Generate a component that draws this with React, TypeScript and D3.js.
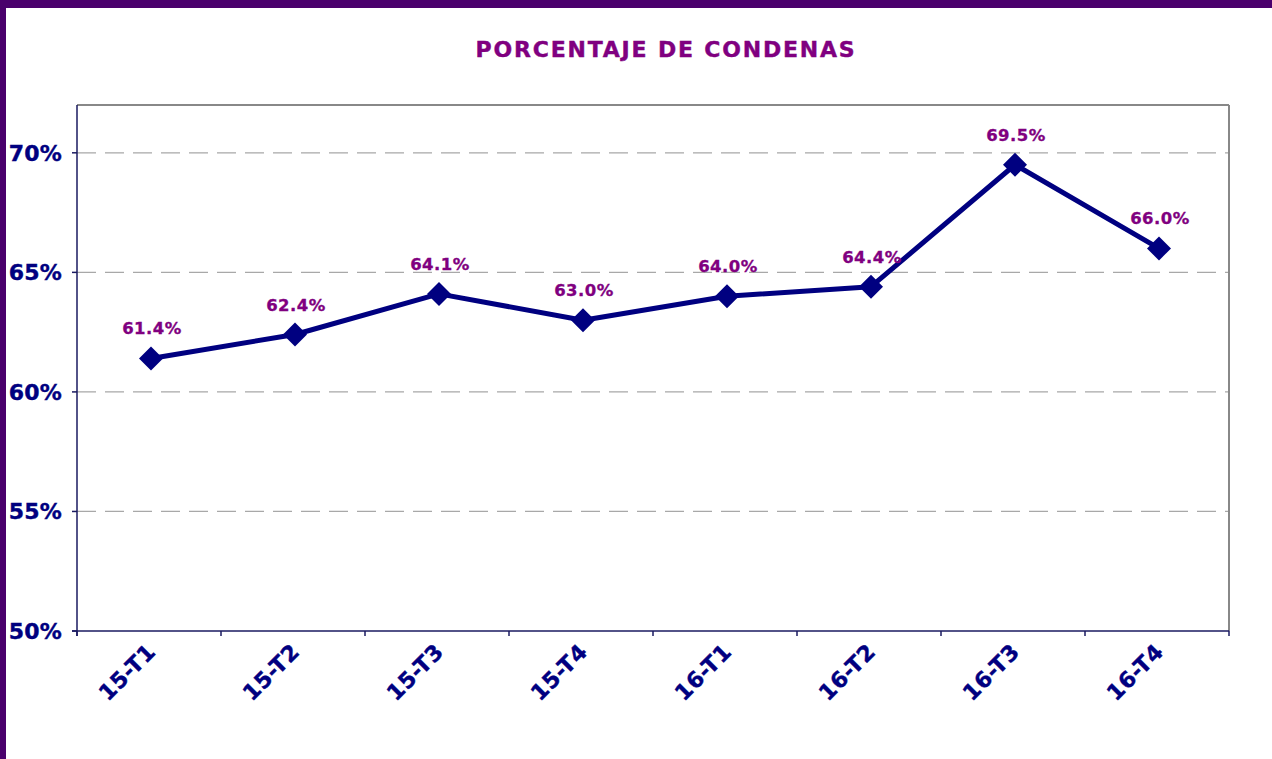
import React from "react";
import * as d3 from "d3";

const categories = ["15-T1", "15-T2", "15-T3", "15-T4", "16-T1", "16-T2", "16-T3", "16-T4"];
const values = [0.614, 0.624, 0.641, 0.63, 0.64, 0.644, 0.695, 0.66];
const yTicks = [0.5, 0.55, 0.6, 0.65, 0.7];
const title = "PORCENTAJE DE CONDENAS";

const W = 1272, H = 759;
const L = 77, R = 1229, T = 105, B = 631;
const FONT = "Verdana, 'DejaVu Sans', sans-serif";

export default function App() {
  const x = d3.scaleBand<string>().domain(categories).range([L, R]).padding(0);
  const y = d3.scaleLinear().domain([0.5, 0.72]).range([B, T]);
  const cx = (c: string) => (x(c) as number) + x.bandwidth() / 2 + 2;
  const line = d3.line<number>().x((_, i) => cx(categories[i])).y(d => y(d));
  const fmtPct = d3.format(".0%");
  const fmtLbl = d3.format(".1%");
  const bounds = categories.map(c => x(c) as number).concat([R]);
  const dm = 12;
  return (
    <svg width={W} height={H} style={{ position: "absolute", left: 0, top: 0, background: "#fff" }}>
      <rect x={0} y={0} width={W} height={H} fill="#fff" />
      <rect x={0} y={0} width={W} height={8} fill="#4a006c" />
      <rect x={0} y={0} width={6} height={H} fill="#4a006c" />
      <text x={666} y={57} textAnchor="middle" fontFamily={FONT} fontWeight="bold" fontSize={22} letterSpacing={1.8} fill="#800080" stroke="#800080" strokeWidth={0.4}>{title}</text>
      {yTicks.filter(t => t > 0.5).map(t => (
        <line key={t} x1={L} x2={R} y1={y(t)} y2={y(t)} stroke="#a8a8a8" strokeWidth={1.2} strokeDasharray="19 9" />
      ))}
      <line x1={L} x2={R} y1={T} y2={T} stroke="#888" strokeWidth={2} />
      <line x1={R} x2={R} y1={T} y2={B} stroke="#888" strokeWidth={2} />
      <line x1={L} x2={L} y1={T} y2={B + 5} stroke="#1a1a60" strokeWidth={1.5} />
      <line x1={L - 5} x2={R} y1={B} y2={B} stroke="#1a1a60" strokeWidth={1.5} />
      {yTicks.map(t => (
        <g key={t}>
          <line x1={L - 5} x2={L} y1={y(t)} y2={y(t)} stroke="#1a1a60" strokeWidth={1.5} />
          <text x={62} y={y(t) + 8} textAnchor="end" fontFamily={FONT} fontWeight="bold" fontSize={22} letterSpacing={0.2} fill="#000080" stroke="#000080" strokeWidth={0.4}>{fmtPct(t)}</text>
        </g>
      ))}
      {bounds.map((b, i) => (
        <line key={i} x1={b} x2={b} y1={B} y2={B + 5} stroke="#1a1a60" strokeWidth={1.5} />
      ))}
      {categories.map(c => (
        <text key={c} transform={`translate(${cx(c) + 6},${B + 22}) rotate(-45)`} textAnchor="end" fontFamily={FONT} fontWeight="bold" fontSize={22} letterSpacing={0.5} fill="#000080" stroke="#000080" strokeWidth={0.4}>{c}</text>
      ))}
      <path d={line(values) as string} fill="none" stroke="#000080" strokeWidth={5} strokeLinejoin="round" />
      {values.map((v, i) => {
        const px = cx(categories[i]), py = y(v);
        return (
          <g key={i}>
            <path d={`M${px},${py - dm}L${px + dm},${py}L${px},${py + dm}L${px - dm},${py}Z`} fill="#000080" />
            <text x={px + 1} y={py - 24} textAnchor="middle" fontFamily={FONT} fontWeight="bold" fontSize={16.5} letterSpacing={0.5} fill="#800080" stroke="#800080" strokeWidth={0.3}>{fmtLbl(v)}</text>
          </g>
        );
      })}
    </svg>
  );
}
